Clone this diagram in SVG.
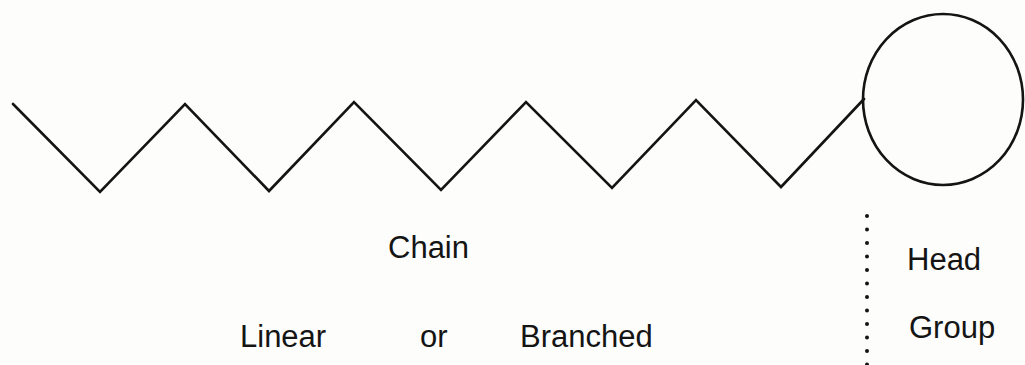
<svg xmlns="http://www.w3.org/2000/svg" width="1025" height="365" viewBox="0 0 1025 365">
  <style>
    .ln { fill: none; stroke: #141414; stroke-width: 2.6; stroke-linejoin: miter; stroke-linecap: round; }
    .lbl { font-family: "Liberation Sans", Arial, sans-serif; font-size: 31px; fill: #141414; }
    .dot { fill: #141414; }
  </style>
  <rect x="0" y="0" width="1025" height="365" fill="#fdfdfb"/>
  <g id="chain">
    <polyline class="ln" points="13,104 100,192 185,104 269,191 354,102 441,190 526,102 612,188 696,100 781,187 864,99"/>
  </g>
  <g id="head">
    <ellipse class="ln" cx="943" cy="99.5" rx="80" ry="85.5"/>
  </g>
  <g id="divider">
    <circle class="dot" cx="867" cy="216" r="2"/>
    <circle class="dot" cx="867" cy="229.5" r="2"/>
    <circle class="dot" cx="867" cy="243" r="2"/>
    <circle class="dot" cx="867" cy="256.5" r="2"/>
    <circle class="dot" cx="867" cy="270" r="2"/>
    <circle class="dot" cx="867" cy="283.5" r="2"/>
    <circle class="dot" cx="867" cy="297" r="2"/>
    <circle class="dot" cx="867" cy="310.5" r="2"/>
    <circle class="dot" cx="867" cy="324" r="2"/>
    <circle class="dot" cx="867" cy="337.5" r="2"/>
    <circle class="dot" cx="867" cy="351" r="2"/>
    <circle class="dot" cx="867" cy="364.5" r="2"/>
  </g>
  <g id="labels">
    <text class="lbl" x="388" y="258">Chain</text>
    <text class="lbl" x="240" y="347">Linear</text>
    <text class="lbl" x="420" y="347">or</text>
    <text class="lbl" x="520" y="347">Branched</text>
    <text class="lbl" x="907" y="270">Head</text>
    <text class="lbl" x="909" y="338">Group</text>
  </g>
</svg>
